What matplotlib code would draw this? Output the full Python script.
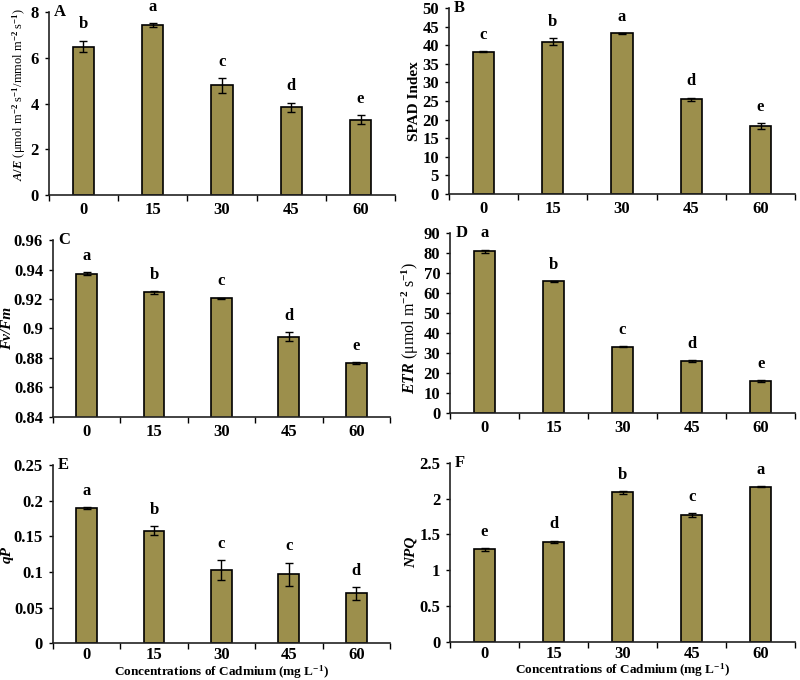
import numpy as np
import matplotlib
matplotlib.use("Agg")
import matplotlib.pyplot as plt

plt.rcParams['font.family'] = ['Liberation Serif', 'DejaVu Serif']
plt.rcParams['font.weight'] = 'bold'
plt.rcParams['mathtext.fontset'] = 'custom'
plt.rcParams['mathtext.rm'] = 'Liberation Serif'
plt.rcParams['mathtext.it'] = 'Liberation Serif:italic'
plt.rcParams['mathtext.bf'] = 'Liberation Serif:bold'

# cadmium concentrations (mg L-1)
conc = ['0', '15', '30', '45', '60']

# panel A: A/E
ae_mean = [6.5, 7.45, 4.8, 3.85, 3.3]
ae_err = [0.25, 0.08, 0.32, 0.2, 0.2]
ae_let = ['b', 'a', 'c', 'd', 'e']

# panel B: SPAD
spad_mean = [38.3, 41.0, 43.2, 25.4, 18.2]
spad_err = [0.2, 1.0, 0.1, 0.5, 0.8]
spad_let = ['c', 'b', 'a', 'd', 'e']

# panel C: Fv/Fm
fvfm_mean = [0.937, 0.9245, 0.9205, 0.8945, 0.8765]
fvfm_err = [0.001, 0.001, 0.0003, 0.003, 0.0005]
fvfm_let = ['a', 'b', 'c', 'd', 'e']

# panel D: ETR
etr_mean = [80.7, 65.6, 32.9, 25.9, 16.0]
etr_err = [0.7, 0.2, 0.2, 0.4, 0.4]
etr_let = ['a', 'b', 'c', 'd', 'e']

# panel E: qP
qp_mean = [0.19, 0.158, 0.103, 0.097, 0.070]
qp_err = [0.001, 0.006, 0.014, 0.016, 0.009]
qp_let = ['a', 'b', 'c', 'c', 'd']

# panel F: NPQ
npq_mean = [1.29, 1.40, 2.09, 1.77, 2.17]
npq_err = [0.02, 0.015, 0.02, 0.03, 0.01]
npq_let = ['e', 'd', 'b', 'c', 'a']

bar_color = '#9C8F4C'

fig = plt.figure(figsize=(8, 6.8), dpi=100)


def panel(rect, mean, err, letters, ylim, yticks, yticklabels, ylabel, tag,
          xlabel=None, ylabel_kw=None, xpad=5):
    ax = fig.add_axes(rect)
    x = np.arange(len(conc))
    ax.bar(x, mean, width=0.31, color=bar_color, edgecolor='black', linewidth=1.2, zorder=2)
    ax.errorbar(x, mean, yerr=err, fmt='none', ecolor='black', elinewidth=1, capsize=3,
                capthick=1, zorder=3)
    for xi, m, e, l in zip(x, mean, err, letters):
        ax.annotate(l, (xi, m + e), xytext=(0, 6), textcoords='offset points',
                    ha='center', va='bottom', fontsize=12, fontweight='bold')
    ax.set_xlim(-0.5, len(conc) - 0.5)
    ax.set_ylim(*ylim)
    ax.set_yticks(yticks)
    ax.set_yticklabels(yticklabels)
    # boundary ticks on the x axis, labels at the bar centres
    ax.set_xticks(np.arange(len(conc) + 1) - 0.5)
    ax.set_xticklabels([])
    ax.set_xticks(x, minor=True)
    ax.set_xticklabels(conc, minor=True)
    ax.tick_params(axis='x', which='major', length=4, width=1, direction='out')
    ax.tick_params(axis='x', which='minor', length=0, pad=xpad, labelsize=12)
    ax.tick_params(axis='y', length=3, width=1, direction='out', labelsize=12, pad=4)
    for s in ['top', 'right']:
        ax.spines[s].set_visible(False)
    for s in ['left', 'bottom']:
        ax.spines[s].set_linewidth(1.2)
        ax.spines[s].set_color('#222222')
    kw = dict(fontsize=11, fontweight='bold', labelpad=1)
    kw.update(ylabel_kw or {})
    ax.set_ylabel(ylabel, **kw)
    ax.text(0.015, 1.0, tag, transform=ax.transAxes, ha='left', va='center',
            fontsize=12, fontweight='bold')
    if xlabel:
        ax.set_xlabel(xlabel, fontsize=9.5, fontweight='bold', labelpad=0)
    return ax


cd_label = r'Concentrations of Cadmium (mg L$^{\mathbf{-1}}$)'

ax_a = panel([0.061, 0.713, 0.433, 0.269], ae_mean, ae_err, ae_let, (0, 8),
             [0, 2, 4, 6, 8], ['0', '2', '4', '6', '8'],
             r'$A/E$ (μmol m$^{-2}$ s$^{-1}$/mmol m$^{-2}$ s$^{-1}$)', 'A',
             ylabel_kw=dict(fontsize=9, fontweight='normal', labelpad=2))
ax_a.yaxis.label.set_y(0.55)

panel([0.561, 0.715, 0.433, 0.273], spad_mean, spad_err, spad_let, (0, 50),
      list(range(0, 55, 5)), [str(v) for v in range(0, 55, 5)],
      'SPAD Index', 'B')

panel([0.066, 0.387, 0.4215, 0.260], fvfm_mean, fvfm_err, fvfm_let, (0.84, 0.96),
      [0.84, 0.86, 0.88, 0.90, 0.92, 0.94, 0.96],
      ['0.84', '0.86', '0.88', '0.9', '0.92', '0.94', '0.96'],
      'Fv/Fm', 'C', ylabel_kw=dict(fontstyle='italic', labelpad=0))

ax_d = panel([0.5625, 0.393, 0.4315, 0.265], etr_mean, etr_err, etr_let, (0, 90),
             list(range(0, 100, 10)), [str(v) for v in range(0, 100, 10)],
             r'$ETR$ (μmol m$^{-2}$ s$^{-1}$)', 'D',
             ylabel_kw=dict(fontsize=11.5, fontweight='normal', labelpad=2))
ax_d.yaxis.label.set_y(0.47)

panel([0.066, 0.054, 0.4215, 0.262], qp_mean, qp_err, qp_let, (0, 0.25),
      [0, 0.05, 0.1, 0.15, 0.2, 0.25], ['0', '0.05', '0.1', '0.15', '0.2', '0.25'],
      'qP', 'E', xlabel=cd_label, ylabel_kw=dict(fontstyle='italic', labelpad=0), xpad=3)

panel([0.5625, 0.0565, 0.4315, 0.2625], npq_mean, npq_err, npq_let, (0, 2.5),
      [0, 0.5, 1, 1.5, 2, 2.5], ['0', '0.5', '1', '1.5', '2', '2.5'],
      'NPQ', 'F', xlabel=cd_label, ylabel_kw=dict(fontstyle='italic'), xpad=3)

fig.savefig('out.png', dpi=100)
